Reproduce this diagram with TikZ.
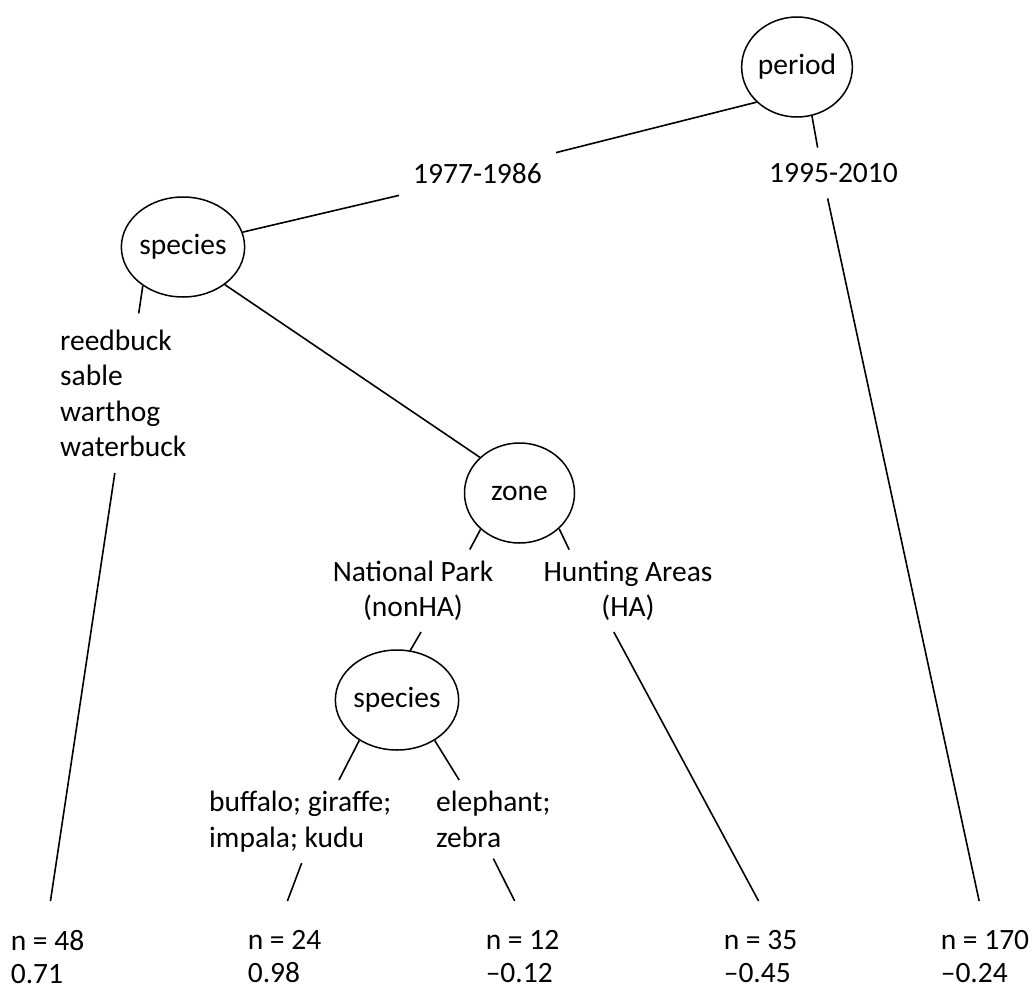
\documentclass[tikz,border=0pt]{standalone}
\usepackage{fontspec}
\setmainfont{Carlito}
\usetikzlibrary{shapes.geometric}
\begin{document}
\begin{tikzpicture}[x=1pt,y=-1pt,
  every node/.style={font=\fontsize{29.5}{35.5}\selectfont},
  split/.style={draw, ellipse, minimum width=110pt, minimum height=100pt, inner sep=0pt, line width=1.5pt},
  lbl/.style={inner sep=0pt},
  leaf/.style={anchor=north west, inner xsep=0pt, inner ysep=29pt, align=left, font=\fontsize{29.5}{33.5}\selectfont},
  conn/.style={line width=1.6pt}]
\useasboundingbox (0,0) rectangle (1033,990);
% split nodes
\node[split] (period) at (797,67) {period};
\node[split] (sp1) at (183,247) {species};
\node[split] (zone) at (519.5,493) {zone};
\node[split, minimum width=102pt] (sp2) at (397,700) {species};
% branch labels
\node[lbl, inner xsep=14pt, inner ysep=11pt] (l1977) at (477.5,174) {1977-1986};
\node[lbl, inner xsep=14pt, inner ysep=15.5pt] (l1995) at (833.5,173) {1995-2010};
\node[lbl, anchor=north west, align=left, inner ysep=16pt] (list) at (60,313.4) {reedbuck\\sable\\warthog\\waterbuck};
\node[lbl, align=center, inner ysep=11pt] (np) at (413,590.8) {National Park\\(nonHA)};
\node[lbl, align=center, inner ysep=11pt] (ha) at (628,590.8) {Hunting Areas\\(HA)};
\node[lbl, anchor=north west, align=left, inner ysep=11pt] (buf) at (209,780) {buffalo; giraffe;\\impala; kudu};
\node[lbl, anchor=north west, align=left, inner ysep=11pt] (ele) at (436,780) {elephant;\\zebra};
% leaves
\node[leaf] (n48) at (10.6,901) {n = 48\\0.71};
\node[leaf] (n24) at (247.6,901) {n = 24\\0.98};
\node[leaf] (n12) at (485.6,901) {n = 12\\\textendash0.12};
\node[leaf] (n35) at (723.6,901) {n = 35\\\textendash0.45};
\node[leaf] (n170) at (940.6,901) {n = 170\\\textendash0.24};
% connectors
\draw[conn] (period.221) -- (l1977.north east);
\draw[conn] (period.287) -- (l1995.122);
\draw[conn] (l1977.south west) -- (sp1.14);
\draw[conn] (sp1.318) -- (zone.138);
\draw[conn] (sp1.224) -- (list.79);
\draw[conn] (list.264) -- (n48.87);
\draw[conn] (zone.223) -- (np.36);
\draw[conn] (zone.318) -- (ha.145);
\draw[conn] (np.281) -- (sp2.75);
\draw[conn] (ha.251) -- (n35.92);
\draw[conn] (sp2.227) -- (buf.47);
\draw[conn] (sp2.313) -- (ele.131);
\draw[conn] (buf.272) -- (n24.87);
\draw[conn] (ele.270) -- (n12.98);
\draw[conn] (l1995.257) -- (n170.96);
\end{tikzpicture}
\end{document}
